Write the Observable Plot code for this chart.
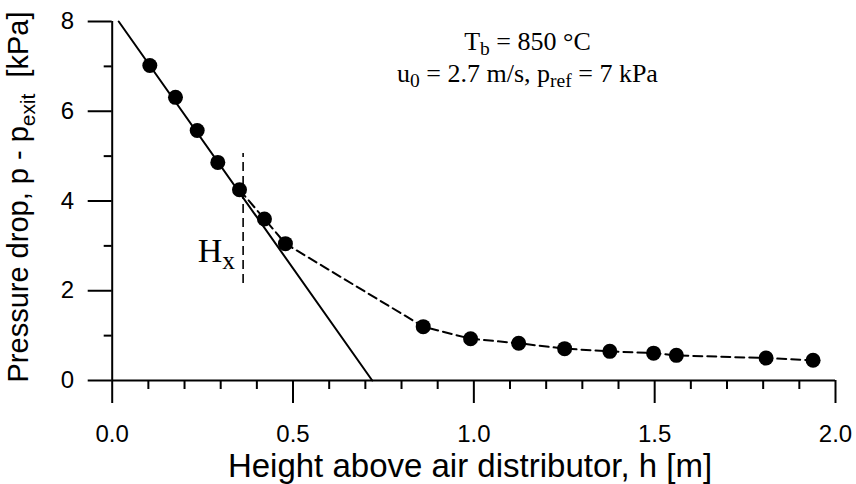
<!DOCTYPE html>
<html>
<head>
<meta charset="utf-8">
<script src="https://cdn.jsdelivr.net/npm/d3@7"></script>
<script src="https://cdn.jsdelivr.net/npm/@observablehq/plot@0.6"></script>
<style>
  html, body { margin: 0; padding: 0; background: #fff; }
  #chart svg { display: block; }
</style>
</head>
<body>
<div id="chart"></div>
<script>
// Measured points: height above distributor h [m], pressure drop [kPa]
const hVals = [0.104, 0.175, 0.235, 0.292, 0.352, 0.421, 0.479, 0.860, 0.991, 1.124, 1.251, 1.376, 1.497, 1.560, 1.808, 1.938];
const pVals = [7.02, 6.31, 5.57, 4.86, 4.25, 3.60, 3.05, 1.20, 0.93, 0.83, 0.71, 0.65, 0.61, 0.56, 0.50, 0.45];
// Index from which the dashed connecting line starts
const dashStart = 4;
// Straight fitted line (solid)
const fitH = [0.018, 0.719];
const fitP = [8, 0];
// Hx marker
const hxPos = 0.362;
const hxRange = [2.16, 5.06];
// Ticks
const xMajor = [0, 0.5, 1.0, 1.5, 2.0];
const xMinor = [0.1, 0.2, 0.3, 0.4, 0.6, 0.7, 0.8, 0.9, 1.1, 1.2, 1.3, 1.4, 1.6, 1.7, 1.8, 1.9];
const yMajor = [0, 2, 4, 6, 8];
const yMinor = [1, 3, 5, 7];

const points = hVals.map((h, i) => ({h, p: pVals[i]}));
const dashed = points.slice(dashStart);
const fit = fitH.map((h, i) => ({h, p: fitP[i]}));

const plot = Plot.plot({
  width: 856,
  height: 484,
  marginLeft: 111.7,
  marginRight: 21,
  marginTop: 21,
  marginBottom: 104,
  x: {domain: [0, 2]},
  y: {domain: [0, 8]},
  style: {fontFamily: "'Liberation Sans', Arial, sans-serif", fontSize: "24px", color: "black", background: "white"},
  marks: [
    Plot.axisX(xMajor, {tickSize: 23, tickPadding: 21, strokeWidth: 2, fontSize: 24, tickFormat: d => d.toFixed(1), label: null}),
    Plot.axisX(xMinor, {tickSize: 9, strokeWidth: 2, tickFormat: () => "", label: null}),
    Plot.axisY(yMajor, {tickSize: 24, tickPadding: 14, strokeWidth: 2, fontSize: 24, tickFormat: d => String(d), label: null}),
    Plot.axisY(yMinor, {tickSize: 8, strokeWidth: 2, tickFormat: () => "", label: null}),
    Plot.ruleY([0], {strokeWidth: 2}),
    Plot.ruleX([0], {strokeWidth: 2}),
    Plot.line(fit, {x: "h", y: "p", stroke: "black", strokeWidth: 2}),
    Plot.line(dashed, {x: "h", y: "p", stroke: "black", strokeWidth: 2, strokeDasharray: "9,5"}),
    Plot.ruleX([hxPos], {x: d => d, y1: hxRange[0], y2: hxRange[1], stroke: "black", strokeWidth: 1.6, strokeDasharray: "9,5"}),
    Plot.dot(points, {x: "h", y: "p", r: 7.5, fill: "black", stroke: "none"})
  ]
});

document.getElementById("chart").appendChild(plot);

const svg = d3.select(plot);
// enlarge the library's tick labels
svg.selectAll("text").style("font-size", "24px").attr("font-size", 24);
svg.selectAll("g").filter(function() { return this.querySelector("text"); }).attr("font-size", 24);
const xs = plot.scale("x"), ys = plot.scale("y");

// rich text helper: parts = [[text, isSub], ...]
function rich(g, parts, size, subScale = 0.72, subShift = 0.28) {
  let shifted = 0;
  parts.forEach(([t, sub]) => {
    const ts = g.append("tspan").text(t);
    if (sub) {
      const d = size * subShift;
      ts.attr("font-size", size * subScale).attr("dy", d - shifted);
      shifted = d;
    } else {
      ts.attr("font-size", size).attr("dy", -shifted);
      shifted = 0;
    }
  });
}

// Annotation (serif)
const ann = svg.append("g").attr("font-family", "'Liberation Serif', 'Times New Roman', serif").attr("fill", "black");
const cx = 527.5;
rich(ann.append("text").attr("x", cx).attr("y", 50).attr("text-anchor", "middle").attr("xml:space", "preserve"),
  [["T", false], ["b", true], [" = 850 °C", false]], 26, 0.75, 0.2);
rich(ann.append("text").attr("x", cx).attr("y", 82).attr("text-anchor", "middle").attr("xml:space", "preserve"),
  [["u", false], ["0", true], [" = 2.7 m/s, p", false], ["ref", true], [" = 7 kPa", false]], 26, 0.75, 0.2);

// Hx label
rich(ann.append("text").attr("x", xs.apply(0.341)).attr("y", ys.apply(2.62)).attr("text-anchor", "end"),
  [["H", false], ["x", true]], 34, 0.75, 0.18);

// Axis titles
const titles = svg.append("g").attr("font-family", "'Liberation Sans', Arial, sans-serif").attr("fill", "black");
titles.append("text").attr("x", 470).attr("y", 477).attr("text-anchor", "middle").attr("font-size", 33)
  .text("Height above air distributor, h [m]");
rich(titles.append("text").attr("transform", "translate(28,197) rotate(-90)").attr("text-anchor", "middle").attr("xml:space", "preserve"),
  [["Pressure drop, p - p", false], ["exit", true], ["  [kPa]", false]], 29, 0.72, 0.25);
</script>
</body>
</html>
